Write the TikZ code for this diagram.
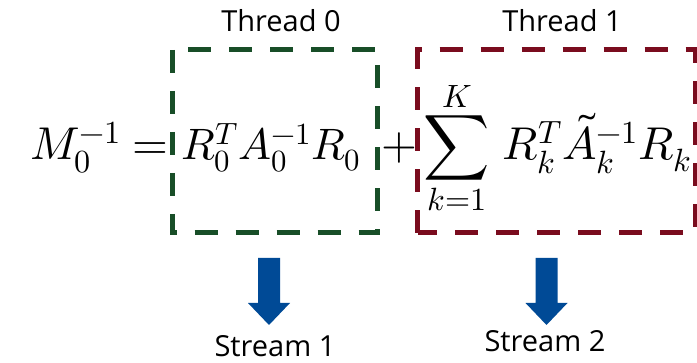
\documentclass[tikz,border=0pt]{standalone}
\usepackage{fontspec}
\usepackage{unicode-math}
\setmainfont{Open Sans}
\definecolor{boxgreen}{RGB}{24,78,40}
\definecolor{boxred}{RGB}{122,12,30}
\definecolor{arrowblue}{RGB}{0,74,150}
\begin{document}
\begin{tikzpicture}[x=1pt,y=-1pt,
  mathtxt/.style={inner sep=0pt,anchor=base west,font=\fontsize{46}{50}\selectfont},
  label/.style={inner sep=0pt,anchor=base,font=\fontsize{29}{33}\selectfont},
  threadbox/.style={line width=5pt,dash pattern=on 23pt off 18pt},
  bigarrow/.style={fill=arrowblue,draw=none}]
\useasboundingbox (0,0) rectangle (697,363);
% boxes
\draw[threadbox,draw=boxgreen] (172.5,50) rectangle (377.5,233);
\draw[threadbox,draw=boxred] (417.5,233) -- (417.5,50) -- (695,50) -- (695,233) -- cycle;
% labels
\node[label] (t0) at (281,32) {Thread 0};
\node[label] (t1) at (562,32) {Thread 1};
% equation
\node[mathtxt] (lhs) at (30,160) {$M_0^{-1}$};
\node[mathtxt,anchor=base] (eq) at (150,160) {$=$};
\node[mathtxt,font=\fontsize{44}{48}\selectfont] (mid) at (181,160) {$R_0^T A_0^{-1} R_0$};
\node[mathtxt,anchor=base] (plus) at (399,160) {$+$};
\node[mathtxt,anchor=base] (sum) at (457,160) {$\displaystyle\sum_{k=1}^{K}$};
\node[mathtxt] (rest) at (502,160) {$R_k^T \tilde{A}_k^{-1} R_k$};
% arrows
\coordinate (a1) at (269,258);
\coordinate (a2) at (546.5,258);
\fill[bigarrow] (a1) ++(-11,0) -- ++(22,0) -- ++(0,45) -- ++(10,0) -- ++(-21,22) -- ++(-21,-22) -- ++(10,0) -- cycle;
\fill[bigarrow] (a2) ++(-11,0) -- ++(22,0) -- ++(0,45) -- ++(10,0) -- ++(-21,22) -- ++(-21,-22) -- ++(10,0) -- cycle;
\node[label] (s1) at (275,357) {Stream 1};
\node[label] (s2) at (545,352) {Stream 2};
\end{tikzpicture}
\end{document}
